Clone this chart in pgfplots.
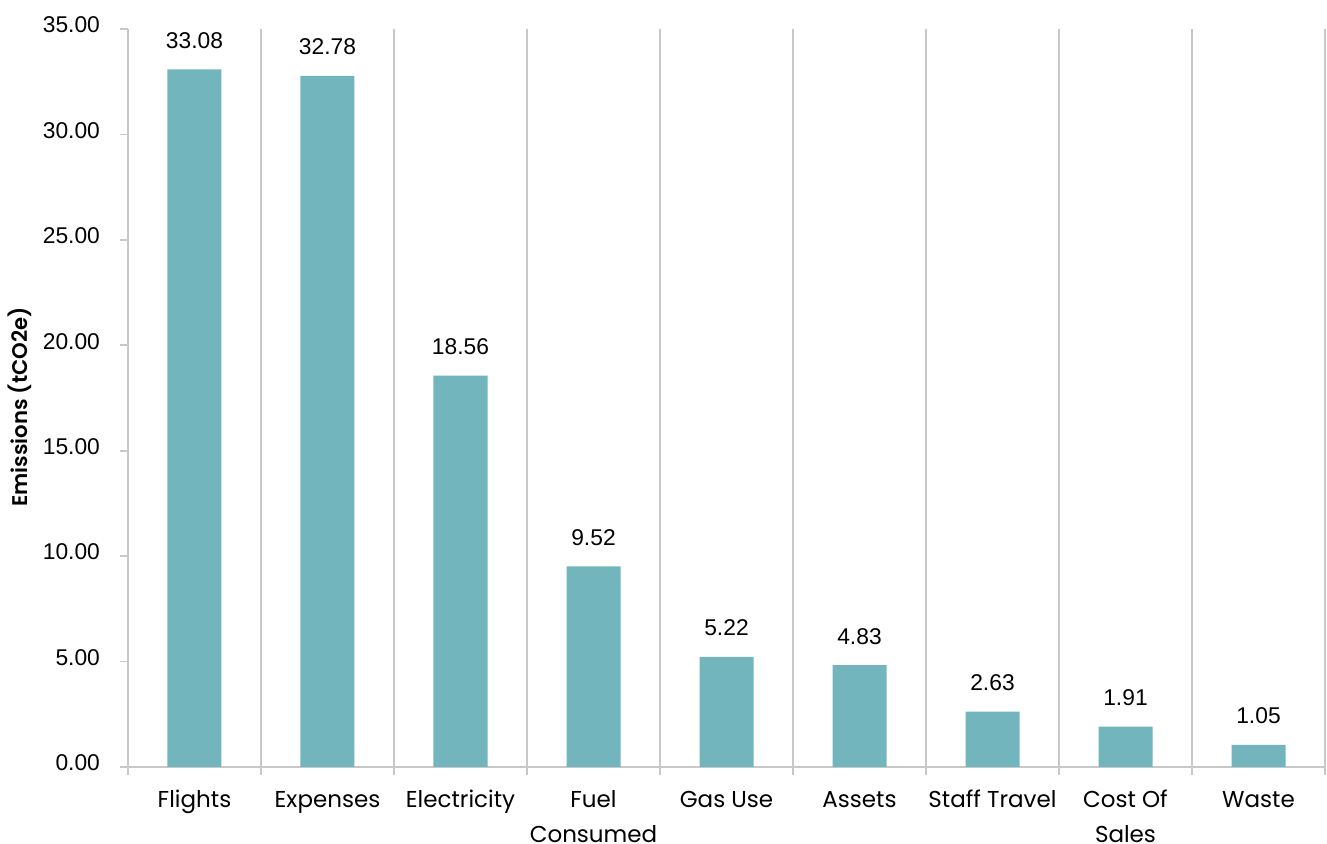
\documentclass[border=0pt]{standalone}
\usepackage{pgfplots}
\pgfplotsset{compat=1.18}
\usepackage{fontspec}
\setmainfont{Liberation Sans}
\newfontfamily\catfont{Poppins}[BoldFont={Poppins SemiBold}]
\definecolor{barteal}{RGB}{114,181,189}
\definecolor{gridgray}{RGB}{200,200,200}

\begin{document}
\begin{tikzpicture}
\begin{axis}[
  at={(0,0)}, anchor=south west,
  scale only axis,
  width=598.5pt, height=369pt,
  xmin=-0.5, xmax=8.5,
  ymin=0, ymax=35,
  ytick={0,5,...,35},
  axis lines=left,
  axis line style={-, draw=gridgray, line width=0.9pt},
  tick style={draw=gridgray, line width=0.9pt},
  tick align=outside,
  major tick length=4pt,
  x tick style={draw=none},
  xtick=data,
  % every label has two lines so that all first lines share one baseline
  xticklabels={{Flights\\\mbox{}},{Expenses\\\mbox{}},{Electricity\\\mbox{}},{Fuel\\Consumed},
    {Gas Use\\\mbox{}},{Assets\\\mbox{}},{Staff Travel\\\mbox{}},{Cost Of\\Sales},{Waste\\\mbox{}}},
  minor xtick={-0.5,0.5,...,8.5},
  minor x tick style={draw=gridgray, line width=0.9pt},
  minor tick length=4pt,
  xminorgrids=true,
  minor x grid style={draw=gridgray, line width=0.9pt},
  xticklabel style={font=\catfont\fontsize{11.5}{17.5}\selectfont, align=center,
    anchor=base, yshift=-34pt},
  yticklabel style={font=\fontsize{11.4}{13}\selectfont, xshift=-6.5pt, yshift=2pt},
  yticklabel={\pgfmathprintnumber[fixed, precision=2, zerofill]{\tick}},
  /pgf/number format/assume math mode=true,
  ylabel={Emissions (tCO2e)},
  every axis y label/.style={at={(axis description cs:0,0.5)}, xshift=-54pt, yshift=-4.5pt,
    rotate=90, anchor=center, font=\catfont\bfseries\fontsize{10.6}{12}\selectfont},
  ybar, bar width=27pt,
  nodes near coords={\pgfmathprintnumber[fixed, precision=2, zerofill]{\pgfplotspointmeta}},
  every node near coord/.append style={font=\fontsize{11.4}{13}\selectfont, anchor=base, yshift=10.5pt, inner sep=0pt},
  clip=false,
]
\addplot[fill=barteal, draw=none] coordinates {
  (0,33.08) (1,32.78) (2,18.56) (3,9.52) (4,5.22) (5,4.83) (6,2.63) (7,1.91) (8,1.05)
};
\end{axis}
\pgfresetboundingbox
\useasboundingbox (-64pt,-38.5pt) rectangle (599.5pt,383.5pt);
\end{tikzpicture}
\end{document}
